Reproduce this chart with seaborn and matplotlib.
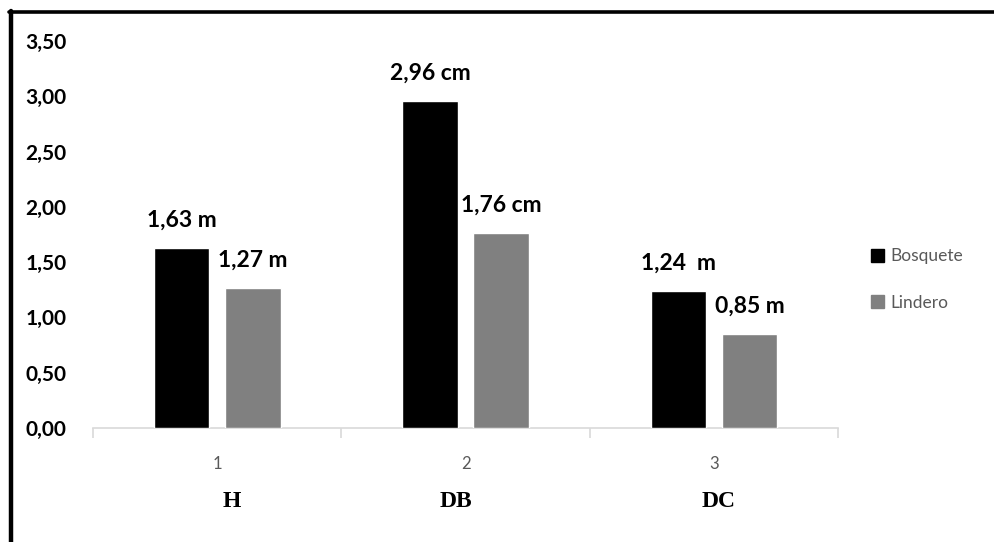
import matplotlib
matplotlib.use("Agg")
import matplotlib.pyplot as plt
from matplotlib.lines import Line2D
import seaborn as sns
import pandas as pd

# Data
categories = ["1", "2", "3"]
variables = ["H", "DB", "DC"]
series = ["Bosquete", "Lindero"]
bosquete = [1.63, 2.96, 1.24]
lindero = [1.27, 1.76, 0.85]
bosquete_labels = ["1,63 m", "2,96 cm", "1,24  m"]
lindero_labels = ["1,27 m", "1,76 cm", "0,85 m"]
yticks = [0.0, 0.5, 1.0, 1.5, 2.0, 2.5, 3.0, 3.5]

df = pd.DataFrame({
    "cat": categories * 2,
    "serie": [series[0]] * 3 + [series[1]] * 3,
    "valor": bosquete + lindero,
})

sns.set_style("white")
plt.rcParams["font.family"] = ["Lato", "DejaVu Sans"]

fig = plt.figure(figsize=(9.95, 5.42), dpi=100)
ax = fig.add_axes([0.0935, 0.2103, 0.7487, 0.7141])

palette = {"Bosquete": "#000000", "Lindero": "#808080"}
sns.barplot(data=df, x="cat", y="valor", hue="serie", order=categories,
            hue_order=series, palette=palette, width=0.573, gap=0.22,
            saturation=1, ax=ax, legend=True, zorder=3)

# value labels, drawn beneath the bars
for cont, labels in zip(ax.containers, [bosquete_labels, lindero_labels]):
    for patch, txt in zip(cont.patches, labels):
        ax.annotate(txt, xy=(patch.get_x() + patch.get_width() / 2, patch.get_height()),
                    xytext=(0, 20), textcoords="offset points", ha="center", va="center",
                    fontsize=16.5, fontweight="bold", color="black", zorder=1,
                    annotation_clip=False)

ax.set_xlim(-0.5, 2.5)
ax.set_ylim(0, 3.5)
ax.set_yticks(yticks)
ax.set_yticklabels([f"{v:.2f}".replace(".", ",") for v in yticks],
                   fontsize=15, fontweight="bold", color="black")
ax.tick_params(axis="y", length=0, pad=19)
ax.set_xticks(range(len(categories)))
ax.set_xticklabels(categories, fontsize=12, color="#595959")
ax.set_xticks([-0.5, 0.5, 1.5, 2.5], minor=True)
ax.tick_params(axis="x", which="major", bottom=False, length=0, pad=20)
ax.tick_params(axis="x", which="minor", bottom=True, length=7, width=1.2,
               color="#d9d9d9", direction="out")
ax.set_xlabel("")
ax.set_ylabel("")
for side in ["top", "right", "left"]:
    ax.spines[side].set_visible(False)
ax.spines["bottom"].set_color("#d9d9d9")
ax.spines["bottom"].set_linewidth(1.2)
ax.grid(False)

# variable names under the categories
name_shift = [0.06, -0.04, 0.02]
for i, (name, dx) in enumerate(zip(variables, name_shift)):
    ax.text(i + dx, -0.19, name, transform=ax.get_xaxis_transform(), ha="center", va="center",
            fontsize=17, fontweight="bold", family="Liberation Serif", color="black")

# legend
handles = [plt.Rectangle((0, 0), 1, 1, color=palette[s]) for s in series]
ax.legend(handles, series, loc="center left", bbox_to_anchor=(0.8683, 0.484),
          bbox_transform=fig.transFigure, frameon=False, fontsize=12.5,
          labelcolor="#595959", handlelength=0.75, handleheight=0.75,
          handletextpad=0.35, labelspacing=1.75, borderaxespad=0)

# frame lines at top and left of the figure
W, H = 995, 542
fig.add_artist(Line2D([9 / W, 1], [1 - 12 / H, 1 - 12 / H], transform=fig.transFigure,
                      color="black", linewidth=2.6))
fig.add_artist(Line2D([11 / W, 11 / W], [0, 1 - 11 / H], transform=fig.transFigure,
                      color="black", linewidth=3.2))

fig.savefig("out.png", dpi=100, facecolor="white")
